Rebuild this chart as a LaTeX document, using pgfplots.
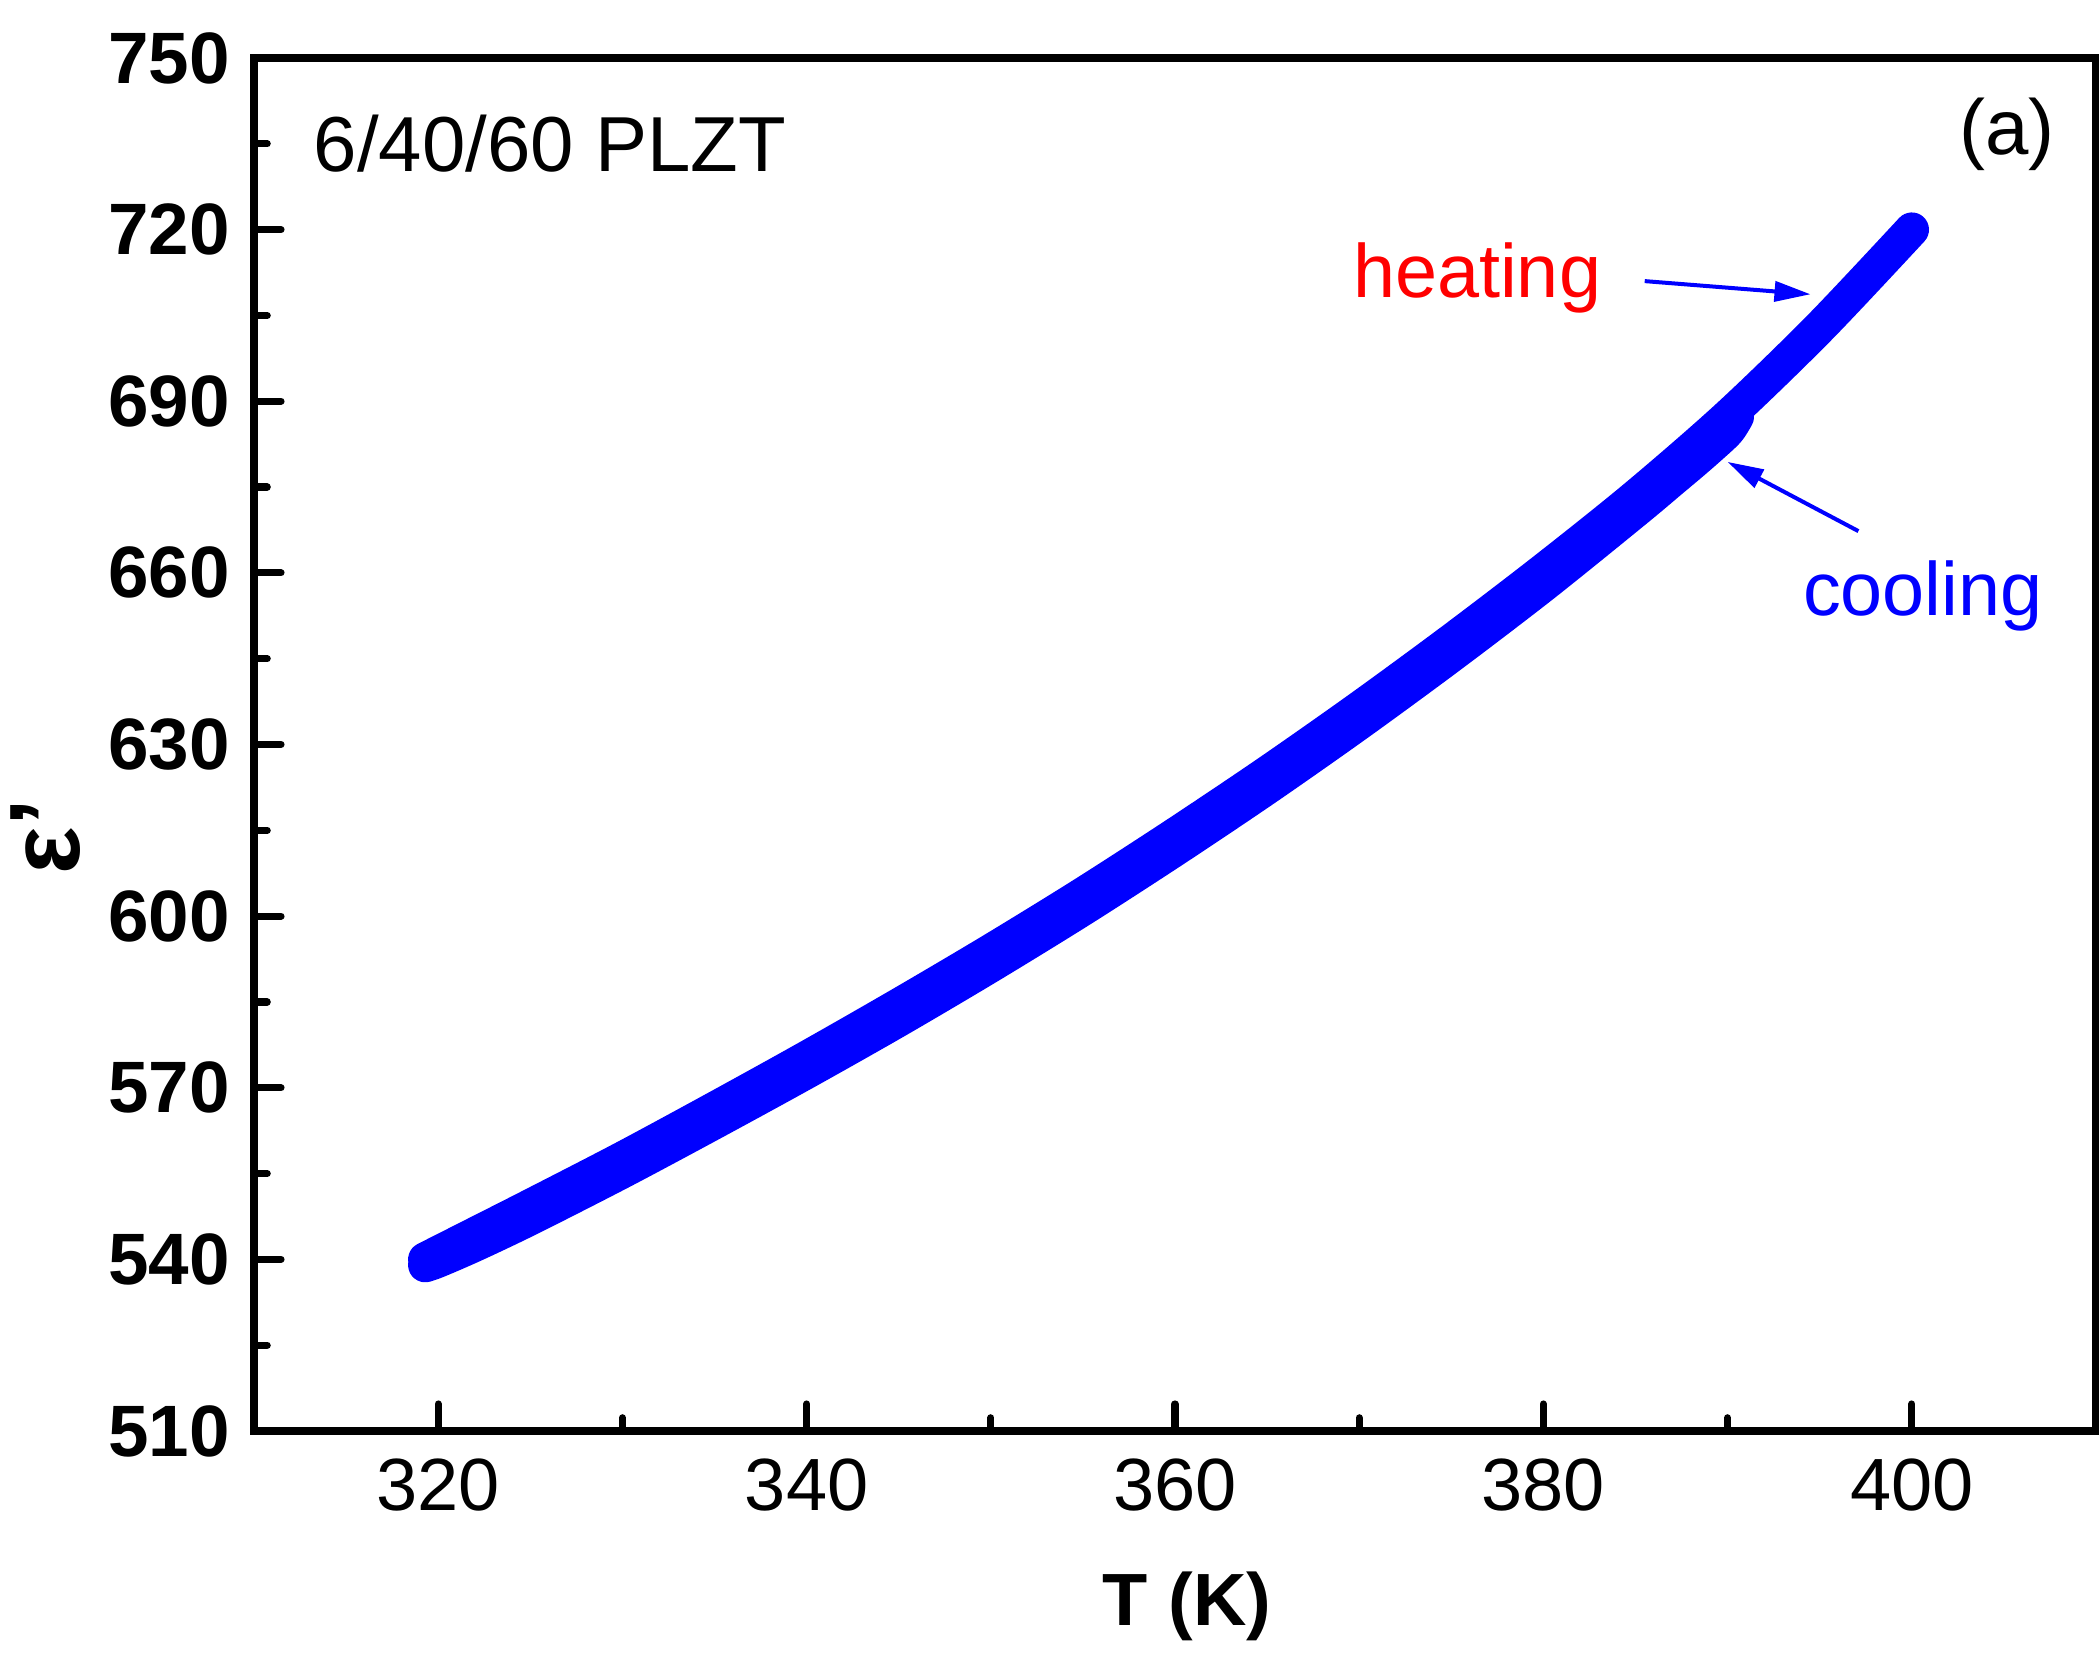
\documentclass[border=0pt]{standalone}
\usepackage{fontspec}
\setmainfont{Liberation Sans}
\usepackage{pgfplots}
\pgfplotsset{compat=1.18}
\usetikzlibrary{arrows.meta}

\begin{document}
\begin{tikzpicture}
\begin{axis}[
  scale only axis,
  width=460.5pt, height=343.25pt,
  xmin=310, xmax=410, ymin=510, ymax=750,
  xtick={320,340,...,400}, ytick={510,540,...,750},
  minor x tick num=1, minor y tick num=1,
  tick align=inside, tick pos=left,
  major tick length=6.75pt, minor tick length=3.3pt,
  axis line style={line width=2.2pt},
  every tick/.style={black, line width=1.8pt, line cap=round},
  /pgf/number format/assume math mode=true,
  xticklabel style={font=\fontsize{18.5}{20}\selectfont, yshift=-3.5pt},
  yticklabel style={font=\fontsize{18.2}{20}\selectfont\bfseries, xshift=-2.5pt},
  xlabel={T (K)}, ylabel={ε'},
  xlabel style={font=\fontsize{18.5}{20}\selectfont\bfseries, at={(axis description cs:0.5065,-0.1275)}, anchor=center},
  ylabel style={font=\fontsize{25}{28}\selectfont\bfseries, at={(axis description cs:-0.113,0.433)}, anchor=center},
  clip=false,
]
% cooling
\addplot[blue, line width=8.6pt, line cap=round, line join=round, smooth, tension=0.5] coordinates {
(390.5,687.3) (390,684.8) (389,681.8) (388,679.0) (387,676.3) (385,670.9)
(380,657.9) (375,645.6) (370,633.8) (365,622.5) (360,611.7) (355,601.3)
(350,591.4) (345,581.9) (340,572.8) (335,564.0) (330,555.4) (325,547.2)
(322,542.6) (320,539.8) (319.3,539.0)
};
% heating
\addplot[blue, line width=8.6pt, line cap=round, line join=round, smooth, tension=0.5] coordinates {
(319.3,540.0) (322,544.4) (325,549.3) (330,557.6) (335,566.3) (340,575.2)
(345,584.4) (350,593.9) (355,603.8) (360,614.2) (365,625.0) (370,636.3)
(375,648.1) (380,660.4) (385,673.3) (390,687.3) (395,702.9) (400,720.0)
};
\node[anchor=west, inner sep=0pt, font=\fontsize{19.5}{21}\selectfont] at (axis cs:313.2,735.1) {6/40/60 PLZT};
\node[anchor=east, inner sep=0pt, font=\fontsize{19.5}{21}\selectfont] at (axis cs:407.8,736.7) {(a)};
\node[red, font=\fontsize{18.9}{21}\selectfont] at (axis cs:376.4,711.6) {heating};
\node[blue, font=\fontsize{18.9}{21}\selectfont] at (axis cs:400.6,656.0) {cooling};
\draw[blue, line width=1pt, -{Triangle[length=9pt,width=5pt]}] (axis cs:385.5,711.0) -- (axis cs:394.5,708.7);
\draw[blue, line width=1pt, -{Triangle[length=9pt,width=5pt]}] (axis cs:397.1,667.3) -- (axis cs:390.0,679.4);
\end{axis}
\pgfresetboundingbox
\path[use as bounding box] ([xshift=-63.5pt,yshift=-55.25pt]current axis.south west) rectangle ([xshift=0.75pt,yshift=14.5pt]current axis.north east);
\end{tikzpicture}
\end{document}
